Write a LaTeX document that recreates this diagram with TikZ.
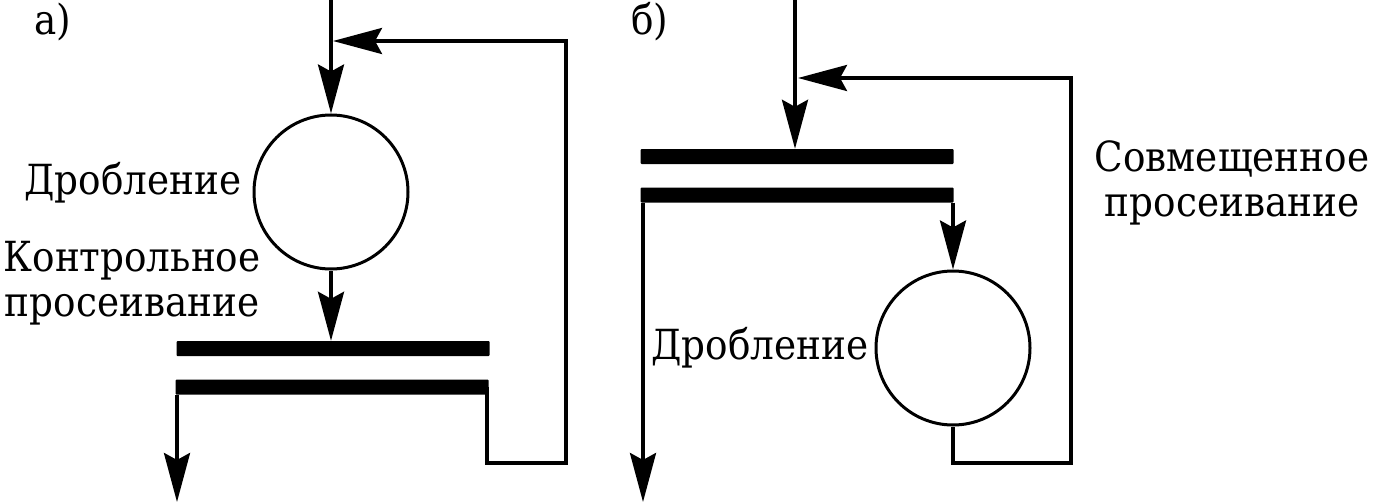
\documentclass[tikz,border=0pt]{standalone}
\usepackage{fontspec}
\setmainfont{DejaVu Serif Condensed}
\usetikzlibrary{arrows.meta}
\begin{document}
\begin{tikzpicture}[x=1pt,y=-1pt,
  conn/.style={line width=3.7pt},
  arr/.style={conn,-{Stealth[length=49pt,width=26pt,inset=7pt]}},
  bar/.style={rectangle,fill=black,inner sep=0pt,minimum width=313pt,minimum height=15pt,rounded corners=1pt},
  mill/.style={circle,draw,line width=3pt,inner sep=0pt,minimum size=154pt},
  lbl/.style={font=\rmfamily\fontsize{41.5}{45}\selectfont,align=center,inner sep=0pt}]
\useasboundingbox (0,0) rectangle (1374,503);
% ---------- a) ----------
\node[lbl] (ta) at (53,22) {а)};
\node[mill] (ca) at (331,192) {};
\node[bar] (ba1) at (333,348.5) {};
\node[bar] (ba2) at (332,387) {};
\coordinate (ina) at (331,0);
\coordinate (outa) at (177,502);
\coordinate (reta) at (566,463);
\node[lbl] (la1) at (133,183) {Дробление};
\node[lbl] (la2) at (132,283) {Контрольное\\просеивание};
\draw[arr] (ina) -- (ca.north);
\draw[arr] (ca.south) -- (ca.south |- ba1.north);
\draw[arr] (ba2.south west -| outa) -- (outa);
\draw[arr] ([xshift=-1.5pt]ba2.east) |- (reta) |- ([xshift=2pt]ina |- 0,41);
% ---------- b) ----------
\node[lbl] (tb) at (650,22) {б)};
\node[bar] (bb1) at (797,156.5) {};
\node[bar] (bb2) at (797,195) {};
\node[mill] (cb) at (953,348) {};
\coordinate (inb) at (795,0);
\coordinate (outb) at (643,502);
\coordinate (retb) at (1071,463);
\node[lbl] (lb1) at (1232,183) {Совмещенное\\просеивание};
\node[lbl] (lb2) at (760,348) {Дробление};
\draw[arr] (inb) -- (inb |- bb1.north);
\draw[arr] (cb.north |- bb2.south) -- (cb.north);
\draw[arr] (bb2.south west -| outb) -- (outb);
\draw[arr] (cb.south) |- (retb) |- ([xshift=3pt]inb |- 0,78);
\end{tikzpicture}
\end{document}
